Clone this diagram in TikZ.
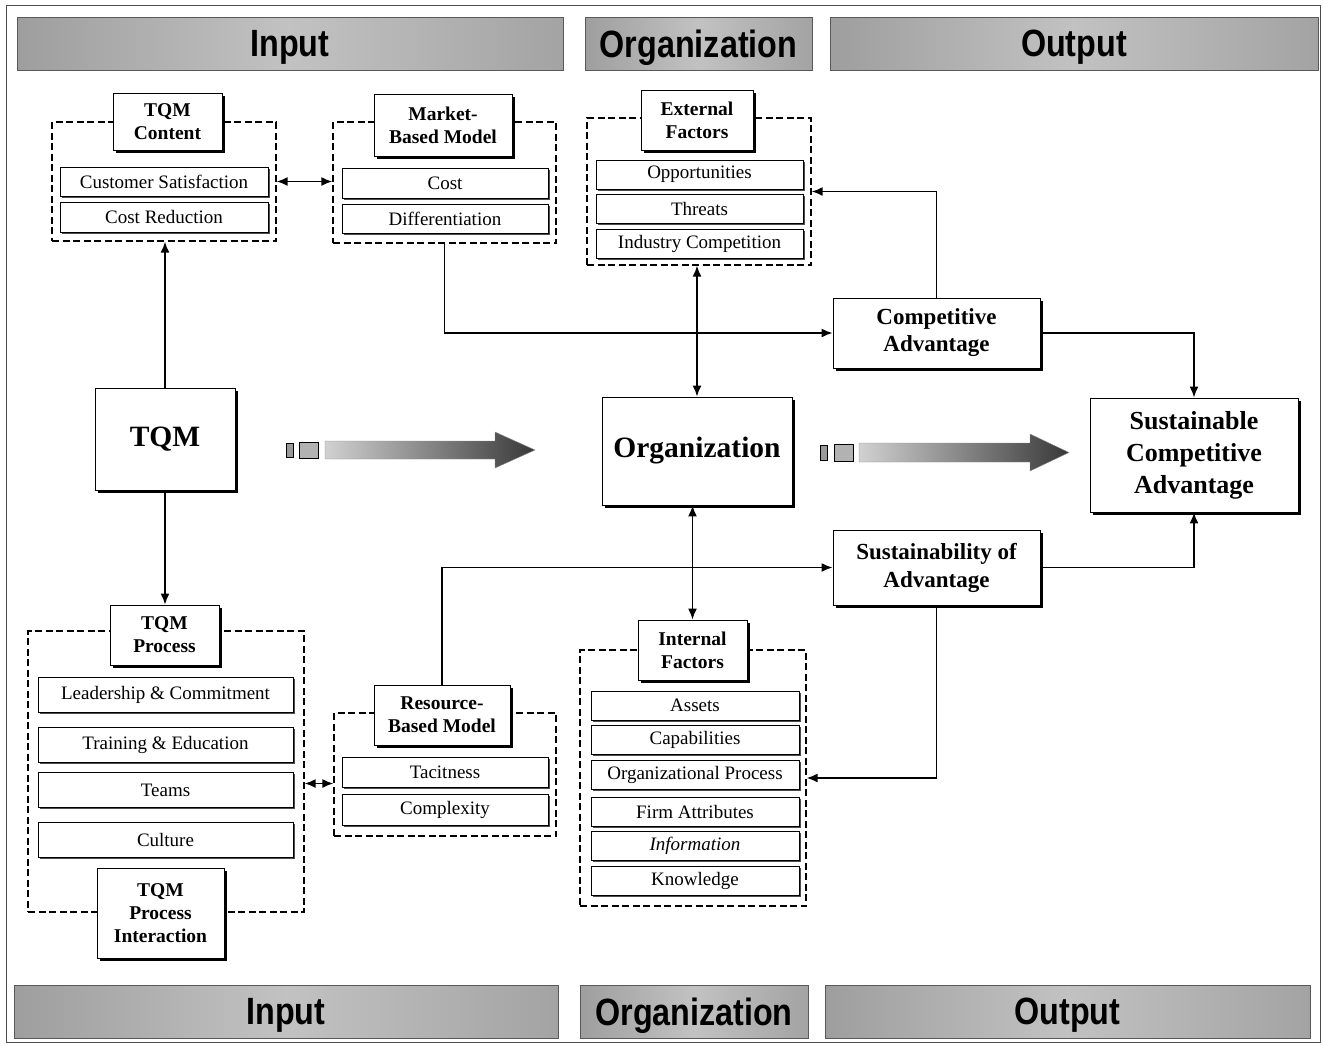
\documentclass[tikz,border=0pt]{standalone}
\usepackage{fontspec}
\setmainfont{Liberation Serif}
\newfontfamily\bannerfont[FakeStretch=0.85]{Liberation Sans}
\usetikzlibrary{shadows,arrows.meta,calc}

\begin{document}
\begin{tikzpicture}[x=1pt,y=-1pt,
  banner/.style={draw=black!65, line width=0.8pt, left color=black!38, right color=black!36,
    middle color=black!24, inner sep=0pt, text depth=0pt,
    font=\bannerfont\bfseries\fontsize{38}{40}\selectfont},
  group/.style={draw, dash pattern=on 7pt off 3.5pt, line width=1.3pt, inner sep=0pt},
  titlebox/.style={draw, fill=white, line width=0.9pt, align=center, inner sep=0pt,
    font=\bfseries\fontsize{19.5}{23}\selectfont,
    drop shadow={shadow xshift=3pt, shadow yshift=-3pt, opacity=1, fill=black}},
  itembox/.style={draw, fill=white, line width=0.8pt, inner sep=0pt,
    font=\fontsize{19}{21}\selectfont,
    drop shadow={shadow xshift=1.5pt, shadow yshift=-1.5pt, opacity=0.7, fill=black}},
  mainbox/.style={draw, fill=white, line width=0.9pt, align=center, inner sep=0pt,
    drop shadow={shadow xshift=3pt, shadow yshift=-3pt, opacity=1, fill=black}},
  conn/.style={line width=1.6pt, -{Latex[length=11pt,width=9pt]}},
  dconn/.style={line width=1.6pt, {Latex[length=11pt,width=9pt]}-{Latex[length=11pt,width=9pt]}},
  flowbar/.style={left color=black!18, right color=black!78, draw=black!45, line width=0.4pt},
]
\useasboundingbox (0,0) rectangle (1324,1045);

% outer frame
\draw[black!70, line width=0.7pt] (6,5) rectangle (1320,1042);

% column banners
\node[banner, minimum width=546, minimum height=53] (inTop)  at (290,43.5)   {Input};
\node[banner, minimum width=227, minimum height=53] (orgTop) at (698.5,43.5) {Organization};
\node[banner, minimum width=488, minimum height=53] (outTop) at (1074,43.5)  {Output};
\node[banner, minimum width=544, minimum height=53] (inBot)  at (286,1011.5)    {Input};
\node[banner, minimum width=228, minimum height=53] (orgBot) at (694,1011.5)    {Organization};
\node[banner, minimum width=485, minimum height=53] (outBot) at (1067.5,1011.5) {Output};

% TQM content
\node[group, minimum width=224, minimum height=119] (tqmcG) at (164,181.5) {};
\node[itembox, minimum width=208, minimum height=29] (cs) at (164,181.5) {Customer Satisfaction};
\node[itembox, minimum width=208, minimum height=30] (cr) at (164,217) {Cost Reduction};
\node[titlebox, minimum width=109, minimum height=57] (tqmcT) at (167.5,121.5) {TQM\\Content};

% market-based model
\node[group, minimum width=223, minimum height=121] (mktG) at (444.5,182.5) {};
\node[itembox, minimum width=206, minimum height=30] (cost) at (445,183) {Cost};
\node[itembox, minimum width=206, minimum height=29] (diff) at (445,218.5) {Differentiation};
\node[titlebox, minimum width=138, minimum height=62] (mktT) at (443,125) {Market-\\Based Model};

% external factors
\node[group, minimum width=224, minimum height=147] (extG) at (699,191.5) {};
\node[itembox, minimum width=207, minimum height=29] (opp) at (699.5,174.5) {Opportunities};
\node[itembox, minimum width=207, minimum height=29] (thr) at (699.5,208.5) {Threats};
\node[itembox, minimum width=207, minimum height=29] (ind) at (699.5,243.5) {Industry Competition};
\node[titlebox, minimum width=112, minimum height=60] (extT) at (697,120) {External\\Factors};

% central boxes
\node[mainbox, minimum width=140, minimum height=102, font=\bfseries\fontsize{29.5}{32}\selectfont] (tqm) at (165,439) {TQM};
\node[mainbox, minimum width=190, minimum height=108, font=\bfseries\fontsize{29.5}{32}\selectfont] (org) at (697,451) {Organization};
\node[mainbox, minimum width=207, minimum height=70, font=\bfseries\fontsize{23}{27}\selectfont] (ca) at (936.5,333) {Competitive\\Advantage};
\node[mainbox, minimum width=207, minimum height=75, font=\bfseries\fontsize{23}{28}\selectfont] (soa) at (936.5,567.5) {Sustainability of\\Advantage};
\node[mainbox, minimum width=208, minimum height=114, font=\bfseries\fontsize{26}{32}\selectfont] (sca) at (1194,455) {Sustainable\\Competitive\\Advantage};

% TQM process
\node[group, minimum width=276, minimum height=281] (tqmpG) at (166,771.5) {};
\node[itembox, minimum width=255, minimum height=35] (lead) at (165.5,694.5) {Leadership \& Commitment};
\node[itembox, minimum width=255, minimum height=35] (train) at (165.5,744.5) {Training \& Education};
\node[itembox, minimum width=255, minimum height=35] (teams) at (165.5,790) {Teams};
\node[itembox, minimum width=255, minimum height=35] (cult) at (165.5,840) {Culture};
\node[titlebox, minimum width=109, minimum height=60] (tqmpT) at (164.5,635) {TQM\\Process};
\node[titlebox, minimum width=127, minimum height=90] (tpiT) at (160.5,913) {TQM\\Process\\Interaction};

% resource-based model
\node[group, minimum width=222, minimum height=123] (resG) at (445,774.5) {};
\node[itembox, minimum width=206, minimum height=30] (tac) at (445,772) {Tacitness};
\node[itembox, minimum width=206, minimum height=31] (cpx) at (445,809.5) {Complexity};
\node[titlebox, minimum width=136, minimum height=60] (resT) at (442,715) {Resource-\\Based Model};

% internal factors
\node[group, minimum width=226, minimum height=256] (intG) at (693,778) {};
\node[itembox, minimum width=208, minimum height=29] (ast) at (695,705.5) {Assets};
\node[itembox, minimum width=208, minimum height=29] (cap) at (695,740) {Capabilities};
\node[itembox, minimum width=208, minimum height=29] (op) at (695,775) {Organizational Process};
\node[itembox, minimum width=208, minimum height=29] (fa) at (695,812) {Firm Attributes};
\node[itembox, minimum width=208, minimum height=29] (inf) at (695,845.5) {\itshape Information};
\node[itembox, minimum width=208, minimum height=29] (kn) at (695,881) {Knowledge};
\node[titlebox, minimum width=109, minimum height=60] (intT) at (692.5,650) {Internal\\Factors};

% flow arrows
\draw[fill=black!40, line width=0.5pt] (286,443) rectangle (293,457);
\draw[fill=black!30, line width=0.5pt] (299,442) rectangle (318,458);
\shade[flowbar] (325,441) -- (495,441) -- (495,432) -- (535,450) -- (495,468) -- (495,459) -- (325,459) -- cycle;
\draw[fill=black!40, line width=0.5pt] (820,445) rectangle (827,460);
\draw[fill=black!30, line width=0.5pt] (834,444) rectangle (853,461);
\shade[flowbar] (859,443) -- (1030,443) -- (1030,434) -- (1069,452.5) -- (1030,471) -- (1030,462) -- (859,462) -- cycle;

% connectors
\draw[conn] (tqm.north) -- (tqm.north |- tqmcG.south);
\draw[conn] (tqm.south) -- (tqm.south |- tqmpT.north);
\draw[dconn] (tqmcG.east) -- (tqmcG.east -| mktG.west);
\draw[dconn] ([yshift=-12pt]tqmpG.east) -- ([yshift=-12pt]tqmpG.east -| resG.west);
\draw[conn] (mktG.south) |- (ca.west);
\draw[conn] (resT.north) |- (soa.west);
\draw[dconn] (org.north) -- (org.north |- extG.south);
\draw[dconn] (intT.north |- org.south) -- (intT.north);
\draw[conn] (ca.north) |- (extG.east);
\draw[conn] (ca.east) -| (sca.north);
\draw[conn] (soa.east) -| (sca.south);
\draw[conn] (soa.south) |- (intG.east);
\end{tikzpicture}
\end{document}
